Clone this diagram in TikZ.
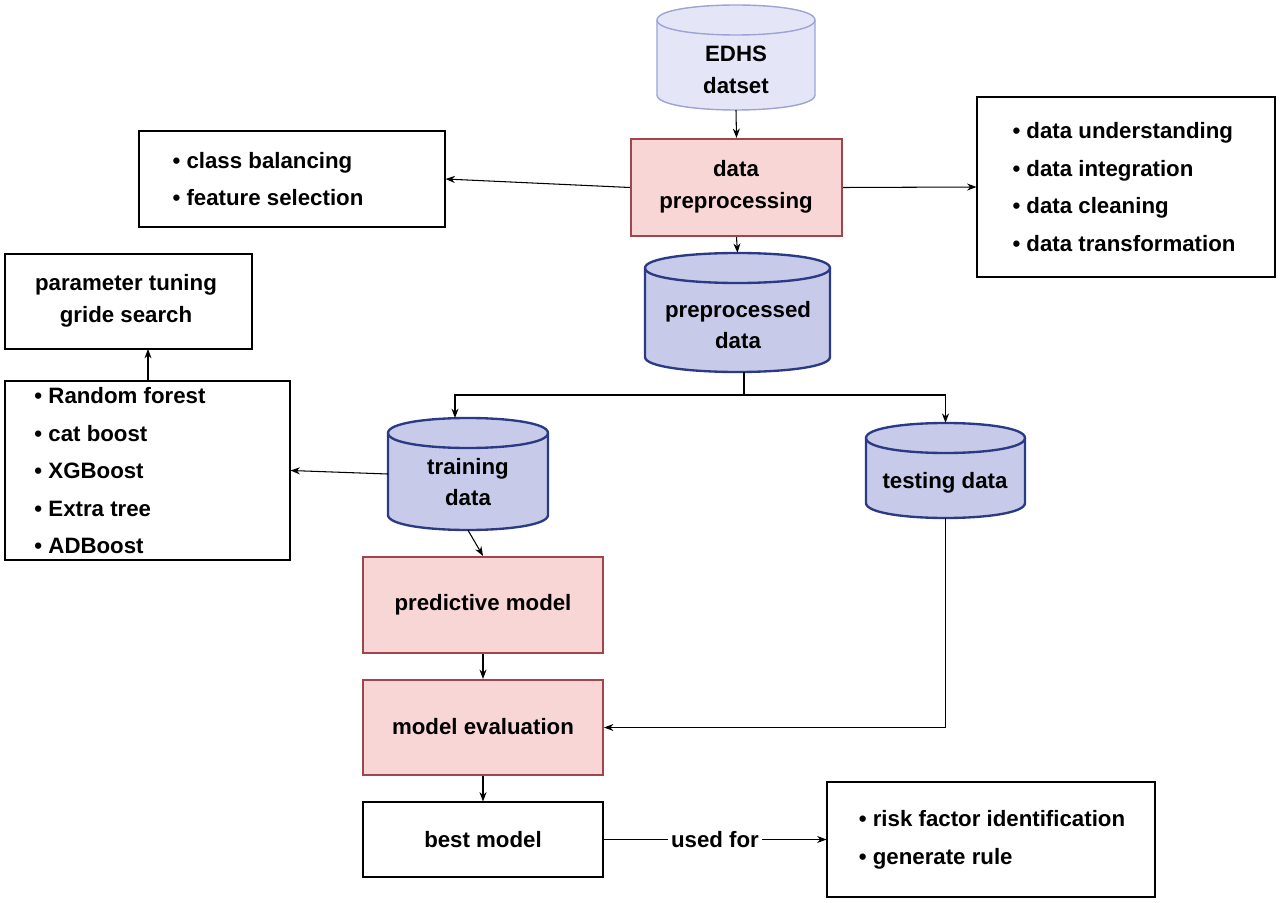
\documentclass[tikz,border=0pt]{standalone}
\usepackage{fontspec}
\setmainfont{Liberation Sans}
\usetikzlibrary{fit,arrows.meta}
\definecolor{lcf}{HTML}{E4E6F7}\definecolor{lcd}{HTML}{9DA3D4}
\definecolor{dcf}{HTML}{C8CAE9}\definecolor{dcd}{HTML}{2B3A85}
\definecolor{pkf}{HTML}{F9D6D6}\definecolor{pkd}{HTML}{A0454A}
\tikzset{
 area/.style={fit={#1}, inner sep=0pt, draw=none},
 plainbox/.style={draw=black, line width=0.9pt, fill=white},
 pinkbox/.style={draw=pkd, line width=1.8pt, fill=pkf},
 lightcyl/.style={draw=lcd, line width=1.2pt, fill=lcf},
 darkcyl/.style={draw=dcd, line width=2pt, fill=dcf},
 txt/.style={font=\fontsize{19}{27}\selectfont\bfseries, align=center, inner sep=0pt},
 ltxt/.style={font=\fontsize{19}{32}\selectfont\bfseries, align=left, inner sep=0pt},
 arr/.style={-{Stealth[length=8pt,width=6pt]}, line width=0.9pt},
}
\newcommand\mycyl[6]{%
 \path[#6] (#2,#3+15) -- (#2,#5-15) .. controls (#2,#5+5) and (#4,#5+5) .. (#4,#5-15)
   -- (#4,#3+15) .. controls (#4,#3-5) and (#2,#3-5) .. (#2,#3+15) -- cycle;
 \draw[#6,fill=none] (#2,#3+15) .. controls (#2,#3+35) and (#4,#3+35) .. (#4,#3+15);
 \node[area={(#2,#3)(#4,#5)}] (#1) {};}
\newcommand\mybox[6]{%
 \node[area={(#2,#3)(#4,#5)}, #6] (#1) {};}
\begin{document}
\begin{tikzpicture}[x=0.03cm,y=-0.03cm]
\useasboundingbox (0,0) rectangle (1280,903);
\mycyl{edhs}{657}{5}{815}{110}{lightcyl}
\node[txt] at (736,70) {EDHS\\datset};
\mybox{pre}{631}{139}{842}{236}{pinkbox}
\node[txt] at (736,187) {data\\preprocessing};
\mybox{cb}{139}{131}{445}{227}{plainbox}
\node[ltxt] at (268,179) {\textbullet\ class balancing\\\textbullet\ feature selection};
\mybox{du}{977}{97}{1275}{277}{plainbox}
\node[ltxt] at (1124,187) {\textbullet\ data understanding\\\textbullet\ data integration\\\textbullet\ data cleaning\\\textbullet\ data transformation};
\mycyl{ppd}{645}{253}{830}{372}{darkcyl}
\node[txt] at (738,325) {preprocessed\\data};
\mybox{pt}{5}{254}{252}{349}{plainbox}
\node[txt] at (126,301) {parameter tuning\\gride search};
\mybox{ml}{5}{381}{290}{560}{plainbox}
\node[ltxt] at (120,471) {\textbullet\ Random forest\\\textbullet\ cat boost\\\textbullet\ XGBoost\\\textbullet\ Extra tree\\\textbullet\ ADBoost};
\mycyl{tr}{388}{418}{548}{530}{darkcyl}
\node[txt] at (468,482) {training\\data};
\mycyl{te}{866}{423}{1025}{518}{darkcyl}
\node[txt] at (945,483) {testing data};
\mybox{pm}{363}{557}{603}{653}{pinkbox}
\node[txt] at (483,605) {predictive model};
\mybox{me}{363}{680}{603}{775}{pinkbox}
\node[txt] at (483,727) {model evaluation};
\mybox{bm}{363}{802}{603}{877}{plainbox}
\node[txt] at (483,840) {best model};
\mybox{rf}{827}{782}{1155}{897}{plainbox}
\node[ltxt] at (992,840) {\textbullet\ risk factor identification\\\textbullet\ generate rule};
\coordinate (s) at (744,395);
\draw[arr] (edhs.south) -- (pre.north);
\draw[arr] (pre.west) -- (cb.east);
\draw[arr] (pre.east) -- (du.west);
\draw[arr] (pre.south) -- (ppd.north);
\draw[line width=0.9pt] (ppd.south -| s) -- (s);
\draw[arr] (s) -| (455,418);
\draw[arr] (s) -| (te.north);
\draw[arr] (tr.west) -- (ml.east);
\draw[arr] (148,381) -- (148,349);
\draw[arr] (tr.south) -- (pm.north);
\draw[arr] (pm.south) -- (me.north);
\draw[arr] (me.south) -- (bm.north);
\draw[arr] (te.south) |- (me.east);
\draw[arr] (bm.east) -- node[txt, fill=white, inner sep=3pt] {used for} (rf.west);
\end{tikzpicture}
\end{document}
